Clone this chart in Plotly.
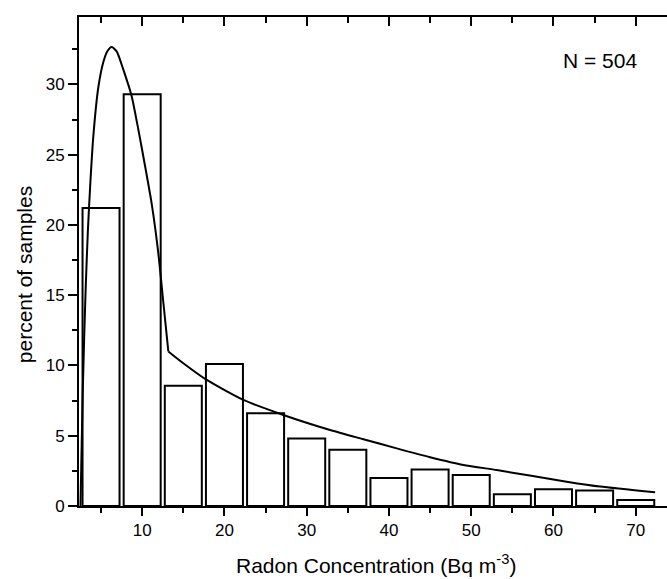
import plotly.graph_objects as go

# Histogram bins (centres, Bq m^-3) and percent of samples
bin_centers = [5, 10, 15, 20, 25, 30, 35, 40, 45, 50, 55, 60, 65, 70]
percent = [21.2, 29.3, 8.55, 10.1, 6.6, 4.8, 4.0, 2.0, 2.6, 2.2, 0.83, 1.2, 1.1, 0.43]

# Fitted curve
fit_x = [2.5, 2.77, 2.95, 3.15, 3.4, 3.7, 4.06, 4.67, 5.28, 5.8, 6.3, 6.9, 7.71, 8.73,
         9.53, 10.35, 11.16, 11.96, 12.57, 13.18, 15.0, 17.85, 22.3, 27.16, 32.84, 36.89,
         40.94, 45.0, 49.05, 53.1, 57.3, 61.6, 65.66, 72.35]
fit_y = [0, 8.0, 12.0, 15.8, 19.6, 23.0, 26.3, 29.8, 31.6, 32.4, 32.67, 32.35, 31.05, 29.15,
         26.8, 24.2, 21.5, 18.0, 14.5, 11.0, 10.16, 8.97, 7.55, 6.48, 5.41, 4.75,
         4.1, 3.47, 2.92, 2.56, 2.15, 1.73, 1.38, 0.97]
# indices where the fitted curve has corners
kink_a = 1
kink_b = 19

x_range = [2.32, 73.8]
y_range = [0, 34.8]
FONT = "Liberation Sans, Arial, sans-serif"
LINE = dict(color="black", width=2)

fig = go.Figure()
fig.add_trace(go.Bar(x=bin_centers, y=percent, width=4.5,
                     marker=dict(color="white", line=dict(color="black", width=2)),
                     showlegend=False, hoverinfo="x+y"))
segments = [(0, kink_a, "linear"), (kink_a, kink_b, "spline"), (kink_b, len(fit_x) - 1, "spline")]
for a, b, shape in segments:
    fig.add_trace(go.Scatter(x=fit_x[a:b + 1], y=fit_y[a:b + 1], mode="lines",
                             line=dict(LINE, shape=shape, smoothing=0.6) if shape == "spline" else LINE,
                             showlegend=False))
# invisible trace to anchor the top axis
fig.add_trace(go.Scatter(x=[x_range[0]], y=[0], xaxis="x2", mode="markers",
                         marker=dict(opacity=0), showlegend=False, hoverinfo="skip"))

fig.update_layout(
    width=667, height=579,
    margin=dict(l=79, r=0, t=17, b=73),
    plot_bgcolor="white", paper_bgcolor="white",
    font=dict(family=FONT, color="black", size=17),
    xaxis=dict(range=x_range, showgrid=False, zeroline=False,
               showline=True, linecolor="black", linewidth=2,
               ticks="outside", ticklen=8, tickwidth=2, tickcolor="black",
               tick0=0, dtick=10, tickfont=dict(size=17),
               minor=dict(dtick=5, tick0=0, ticks="outside", ticklen=5,
                          tickwidth=2, tickcolor="black", showgrid=False)),
    xaxis2=dict(range=x_range, overlaying="x", side="top", showgrid=False,
                zeroline=False, showline=True, linecolor="black", linewidth=2,
                ticks="inside", ticklen=9, tickwidth=2, tickcolor="black",
                tick0=0, dtick=10, showticklabels=False,
                minor=dict(dtick=5, tick0=0, ticks="inside", ticklen=6,
                           tickwidth=2, tickcolor="black", showgrid=False)),
    yaxis=dict(range=y_range, showgrid=False, zeroline=False,
               showline=True, linecolor="black", linewidth=2,
               ticks="outside", ticklen=9, tickwidth=2, tickcolor="black",
               tick0=0, dtick=5, tickfont=dict(size=17),
               minor=dict(dtick=2.5, tick0=0, ticks="outside", ticklen=5,
                          tickwidth=2, tickcolor="black", showgrid=False)),
    annotations=[
        dict(text="N = 504", xref="paper", yref="paper", x=0.952, y=0.911,
             xanchor="right", yanchor="middle", showarrow=False,
             font=dict(size=21, family=FONT, color="black")),
        dict(text="percent of samples", xref="paper", yref="paper",
             x=-0.0935, y=0.472, textangle=-90, xanchor="center", yanchor="middle",
             showarrow=False, font=dict(size=21, family=FONT, color="black")),
        dict(text="Radon Concentration (Bq m<sup>-3</sup>)", xref="paper", yref="paper",
             x=0.505, y=-0.118, xanchor="center", yanchor="middle",
             showarrow=False, font=dict(size=21, family=FONT, color="black")),
    ],
)

fig.write_html("out.html", config={"displayModeBar": False},
               post_script="document.body.style.margin='0';")
